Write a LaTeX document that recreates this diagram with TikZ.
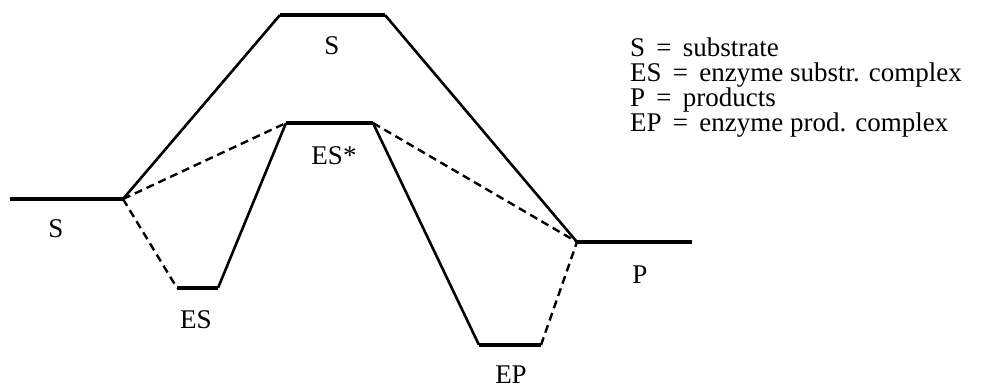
\documentclass[tikz,border=0pt]{standalone}
\usepackage{fontspec}
\setmainfont{Liberation Serif}
\begin{document}
\begin{tikzpicture}[x=1pt,y=-1pt,
  level/.style={line width=3.2pt},
  path/.style={line width=2.6pt},
  alt/.style={line width=2.4pt,dash pattern=on 8pt off 5pt},
  lbl/.style={font=\fontsize{27}{27}\selectfont,inner sep=0pt},
  legend/.style={font=\fontsize{27}{25}\selectfont,align=left,inner sep=0pt,anchor=base west}]
\useasboundingbox (0,0) rectangle (996,388);
\newcommand\eqsign{\ \,=\,\ }
% energy levels
\coordinate (s0) at (10,199);  \coordinate (s1) at (123,199);
\coordinate (t0) at (280,15);  \coordinate (t1) at (385,15);
\coordinate (p0) at (577,242); \coordinate (p1) at (692,242);
\coordinate (es0) at (177,288); \coordinate (es1) at (218,288);
\coordinate (x0) at (286,123); \coordinate (x1) at (373,123);
\coordinate (ep0) at (479,345); \coordinate (ep1) at (541,345);
% uncatalysed route
\draw[level] (s0) -- (s1);
\draw[path] (s1) -- (t0);
\draw[level] (t0) -- (t1);
\draw[path] (t1) -- (p0);
\draw[level] (p0) -- (p1);
% enzyme route
\draw[level] (es0) -- (es1);
\draw[path] (es1) -- (x0);
\draw[level] (x0) -- (x1);
\draw[path] (x1) -- (ep0);
\draw[level] (ep0) -- (ep1);
\draw[alt] (s1) -- (x0);
\draw[alt] (x1) -- (p0);
\draw[alt] (s1) -- (es0);
\draw[alt] (ep1) -- (p0);
% labels
\node[lbl] (lS) at (56,229) {S};
\node[lbl] (lT) at (332,46) {S};
\node[lbl] (lX) at (334,156) {ES*};
\node[lbl] (lES) at (196,320) {ES};
\node[lbl] (lP) at (640,275) {P};
\node[lbl] (lEP) at (511,375) {EP};
\node[legend] (key) at (630,131) {S\eqsign substrate\\ES\eqsign enzyme substr. complex\\P\eqsign products\\EP\eqsign enzyme prod. complex};
\end{tikzpicture}
\end{document}
